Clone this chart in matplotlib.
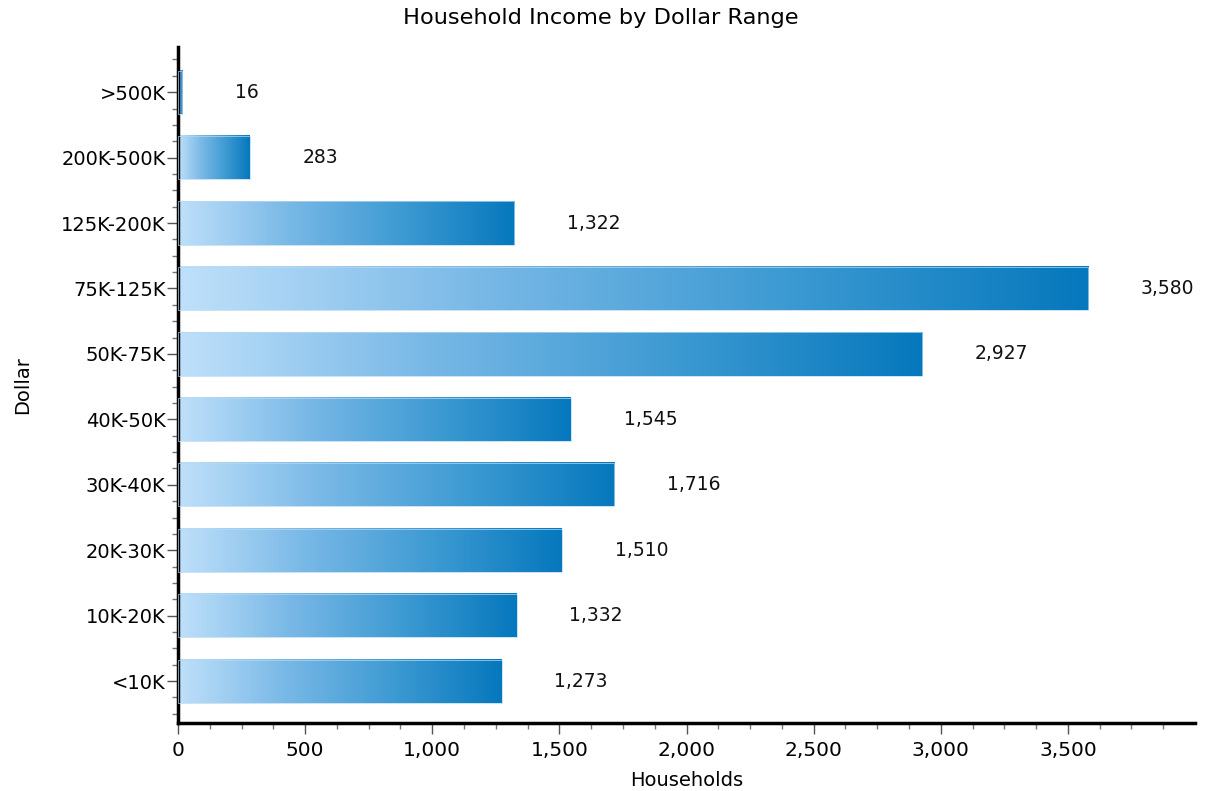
import matplotlib
matplotlib.use('Agg')
import matplotlib.pyplot as plt
import numpy as np
from matplotlib.colors import LinearSegmentedColormap
from matplotlib.ticker import MultipleLocator, FixedLocator, FuncFormatter

categories = ['<10K', '10K-20K', '20K-30K', '30K-40K', '40K-50K',
              '50K-75K', '75K-125K', '125K-200K', '200K-500K', '>500K']
households = [1273, 1332, 1510, 1716, 1545, 2927, 3580, 1322, 283, 16]

plt.rcParams['font.family'] = 'DejaVu Sans'

fig = plt.figure(figsize=(12.13, 7.91), dpi=100)
ax = fig.add_axes([178 / 1213, 68 / 791, 1017 / 1213, 676 / 791])

# degradado de claro a oscuro en cada barra
cmap = LinearSegmentedColormap.from_list('azul', ['#bfe0fa', '#78b8e6', '#3d9ad2', '#0678bd'])
grad = np.linspace(0, 1, 256).reshape(1, -1)
alto = 0.66

for i, v in enumerate(households):
    ax.imshow(grad, cmap=cmap, aspect='auto', interpolation='bilinear',
              extent=[0, v, i - alto / 2, i + alto / 2], zorder=2)
    ax.add_patch(plt.Rectangle((0, i - alto / 2), v, alto, fill=False,
                               edgecolor='#b5d9f2', lw=0.5, zorder=3))
    ax.annotate(f'{v:,}', (v, i), xytext=(38, 0), textcoords='offset points',
                va='center', ha='left', fontsize=13.5, color='#111111')

ax.set_xlim(0, 4000)
ax.set_ylim(-0.64, 9.69)

ax.set_yticks(range(len(categories)))
ax.set_yticklabels(categories, fontsize=14)
ax.yaxis.set_minor_locator(MultipleLocator(0.25))
ax.xaxis.set_major_locator(FixedLocator(np.arange(0, 3501, 500)))
ax.xaxis.set_minor_locator(FixedLocator(np.arange(0, 4000, 125)))
ax.xaxis.set_major_formatter(FuncFormatter(lambda x, p: f'{int(x):,}'))
ax.tick_params(axis='x', labelsize=14.5, pad=5)
ax.tick_params(axis='y', pad=1)

ax.tick_params(which='major', length=8, width=1, color='#555555', direction='out')
ax.tick_params(which='minor', length=4, width=1, color='#777777', direction='out')

for s in ['top', 'right']:
    ax.spines[s].set_visible(False)
ax.spines['left'].set_linewidth(2.5)
ax.spines['bottom'].set_linewidth(2.5)

ax.set_xlabel('Households', fontsize=14, labelpad=8)
ax.set_ylabel('Dollar', fontsize=14, labelpad=21)
fig.suptitle('Household Income by Dollar Range', x=601 / 1213, y=0.977,
             fontsize=16.2, va='center')

fig.savefig('out.png', dpi=100)
